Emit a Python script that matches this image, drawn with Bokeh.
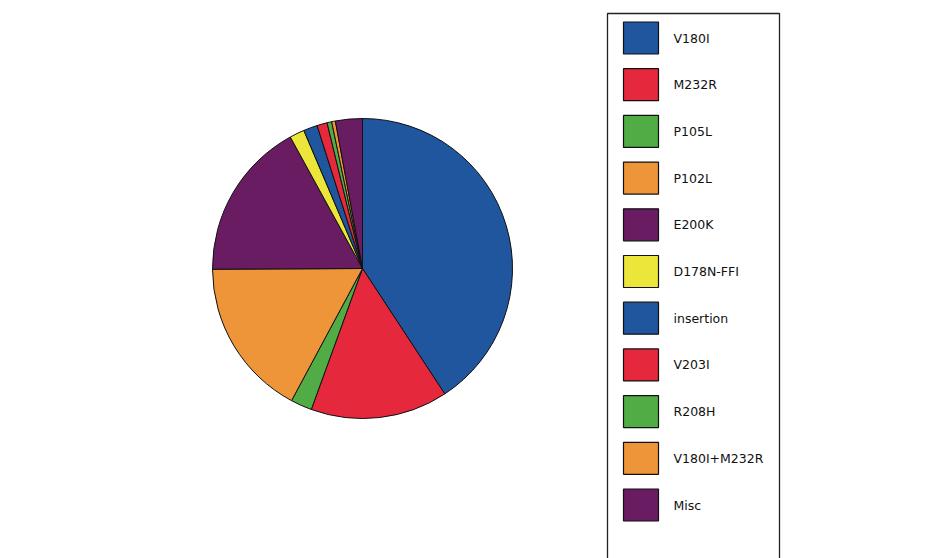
import math
from bokeh.plotting import figure
from bokeh.models import ColumnDataSource, Range1d
from bokeh.core.properties import value
from bokeh.embed import file_html
from bokeh.resources import INLINE

# ---- data (percent share) ----
mutations = ["V180I", "M232R", "P105L", "P102L", "E200K", "D178N-FFI",
             "insertion", "V203I", "R208H", "V180I+M232R", "Misc"]
shares = [40.8, 14.8, 2.3, 17.1, 17.1, 1.6, 1.5, 1.1, 0.5, 0.4, 2.9]
colors = ["#1f569e", "#e6283c", "#52ac46", "#ef9539", "#6a1c62", "#ece63a",
          "#1f569e", "#e6283c", "#52ac46", "#ef9539", "#6a1c62"]

W, H = 951, 558
p = figure(width=W, height=H, x_range=Range1d(0, W), y_range=Range1d(0, H),
           output_backend="svg", toolbar_location=None, min_border=0)
p.axis.visible = False
p.grid.visible = False
p.outline_line_color = None
p.background_fill_color = "white"

# ---- pie ----
cx, cy, r = 362, H - 268, 150
total = sum(shares)
starts, ends = [], []
acc = 0.0
for s in shares:
    a0 = acc / total
    acc += s
    a1 = acc / total
    # clockwise from 12 o'clock
    starts.append(math.pi / 2 - a1 * 2 * math.pi)
    ends.append(math.pi / 2 - a0 * 2 * math.pi)
src = ColumnDataSource(dict(start=starts, end=ends, color=colors, name=mutations))
p.wedge(x=cx, y=cy, radius=r, start_angle="start", end_angle="end",
        fill_color="color", line_color="#111111", line_width=1, source=src)

# ---- legend ----
lx0, lx1, ltop = 607, 779, 13
p.quad(left=lx0, right=lx1, top=H - ltop, bottom=-10, fill_color="white",
       line_color="#222222", line_width=1.3)
step = 46.7
sy = [H - (37.5 + i * step) for i in range(len(mutations))]
leg = ColumnDataSource(dict(y=sy, color=colors, name=mutations))
p.rect(x=640.5, y="y", width=35, height=32, fill_color="color",
       line_color="#111111", line_width=1.2, source=leg)
p.text(x=673, y="y", text="name", text_font=value("DejaVu Sans"),
       text_font_size="12.5px", text_baseline="middle", text_align="left",
       text_color="#111111", source=leg)

open("out.html", "w").write(file_html(p, INLINE))
